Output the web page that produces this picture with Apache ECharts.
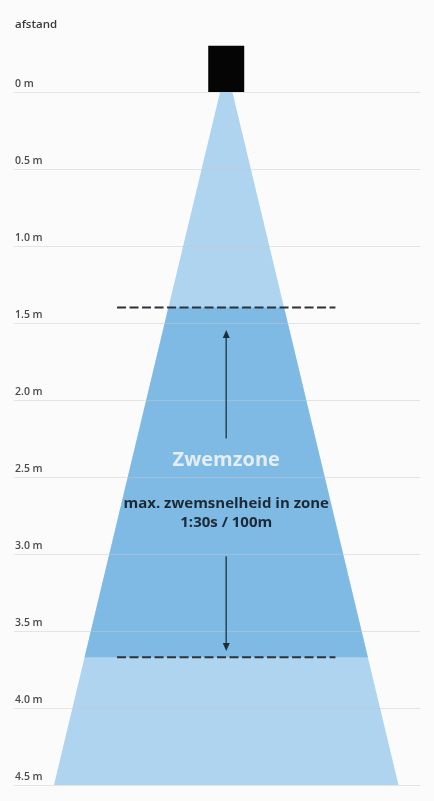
<!DOCTYPE html>
<html>
<head>
<meta charset="utf-8">
<script src="https://cdn.jsdelivr.net/npm/echarts@6/dist/echarts.min.js"></script>
<style>
  html, body { margin: 0; padding: 0; background: #fbfbfb; }
  #chart { width: 434px; height: 801px; }
</style>
</head>
<body>
<div id="chart"></div>
<script>
// ---- data ----
const distanceTicks = [0, 0.5, 1.0, 1.5, 2.0, 2.5, 3.0, 3.5, 4.0, 4.5];   // m
const coneHalfWidth = [0.04, 1.12];          // half width of beam at 0 m and at 4.5 m
const coneDistance = [0, 4.5];
const zoneDistance = [1.4, 3.67];            // zwemzone start / end (m)
const zoneMarkerHalfWidth = 0.71;
const arrowUp = [2.25, 1.545];               // from, tip (m)
const arrowDown = [3.015, 3.63];             // from, tip (m)
const sensorHalfWidth = 0.117;
const sensorHeight = 0.30;
const zoneTitle = 'Zwemzone';
const zoneText = ['max. zwemsnelheid in zone', '1:30s / 100m'];
const zoneTitleAt = 2.39;
const zoneTextAt = 2.735;

function halfAt(d) {
  return coneHalfWidth[0] + (coneHalfWidth[1] - coneHalfWidth[0]) * (d - coneDistance[0]) / (coneDistance[1] - coneDistance[0]);
}

const chart = echarts.init(document.getElementById('chart'));

function poly(api, pts, style) {
  return { type: 'polygon', shape: { points: pts.map(p => api.coord(p)) }, style: style };
}

const option = {
  backgroundColor: '#fbfbfb',
  animation: false,
  title: {
    text: 'afstand', left: 10, top: 14,
    textStyle: { fontFamily: 'Open Sans', fontSize: 11.5, fontWeight: 600, color: '#3a3a3a' }
  },
  grid: { left: 14, right: 14, top: 92, bottom: 16 },
  xAxis: { type: 'value', min: -1.38, max: 1.26, show: false },
  yAxis: {
    type: 'value', inverse: true, min: distanceTicks[0], max: distanceTicks[distanceTicks.length - 1], interval: 0.5,
    z: 5,
    axisLine: { show: false }, axisTick: { show: false },
    splitLine: { show: true, lineStyle: { color: 'rgba(200,200,200,0.45)', width: 1 } },
    axisLabel: {
      inside: true, margin: 1, verticalAlign: 'bottom', padding: [0, 0, 2, 0],
      fontFamily: 'Open Sans', fontSize: 10.5, fontWeight: 600, color: '#4a4a4a',
      formatter: v => (v === 0 ? '0' : v.toFixed(1)) + ' m'
    }
  },
  series: [
    {
      type: 'custom', name: 'cone', z: 1, clip: false,
      data: [[0, 0]],
      renderItem: function (params, api) {
        const d0 = coneDistance[0], d1 = coneDistance[1];
        const z0 = zoneDistance[0], z1 = zoneDistance[1];
        return {
          type: 'group', children: [
            poly(api, [[-halfAt(d0), d0], [halfAt(d0), d0], [halfAt(d1), d1], [-halfAt(d1), d1]], { fill: '#aed4ef' }),
            poly(api, [[-halfAt(z0), z0], [halfAt(z0), z0], [halfAt(z1), z1], [-halfAt(z1), z1]], { fill: '#7fbae5' }),
            poly(api, [[-sensorHalfWidth, -sensorHeight], [sensorHalfWidth, -sensorHeight], [sensorHalfWidth, 0], [-sensorHalfWidth, 0]], { fill: '#050505' })
          ]
        };
      }
    },
    {
      type: 'custom', name: 'markers', z: 6, clip: false,
      data: [[0, 0]],
      renderItem: function (params, api) {
        const children = [];
        zoneDistance.forEach(function (d) {
          const a = api.coord([-zoneMarkerHalfWidth, d]), b = api.coord([zoneMarkerHalfWidth, d]);
          children.push({ type: 'line', shape: { x1: a[0], y1: a[1], x2: b[0], y2: b[1] },
            style: { stroke: '#2b3338', lineWidth: 2, lineDash: [9, 3.5] } });
        });
        [arrowUp, arrowDown].forEach(function (ar) {
          const s = api.coord([0, ar[0]]), t = api.coord([0, ar[1]]);
          const dir = t[1] < s[1] ? -1 : 1;
          const headLen = 8, headHalf = 3.5;
          children.push({ type: 'line', shape: { x1: s[0], y1: s[1], x2: t[0], y2: t[1] - dir * headLen },
            style: { stroke: '#2c4c5c', lineWidth: 1.6 } });
          children.push({ type: 'polygon', shape: { points: [[t[0], t[1]], [t[0] - headHalf, t[1] - dir * headLen], [t[0] + headHalf, t[1] - dir * headLen]] },
            style: { fill: '#1f2f38' } });
        });
        const tp = api.coord([0, zoneTitleAt]);
        children.push({ type: 'text', x: tp[0], y: tp[1],
          style: { text: zoneTitle, fill: '#e4eef7', font: 'bold 20px "Open Sans"', align: 'center', verticalAlign: 'middle' } });
        const sp = api.coord([0, zoneTextAt]);
        children.push({ type: 'text', x: sp[0], y: sp[1],
          style: { text: zoneText.join('\n'), fill: '#1c2a35', font: 'bold 15px "Open Sans"', lineHeight: 19, align: 'center', verticalAlign: 'middle' } });
        return { type: 'group', children: children };
      }
    }
  ]
};
chart.setOption(option);
</script>
</body>
</html>
